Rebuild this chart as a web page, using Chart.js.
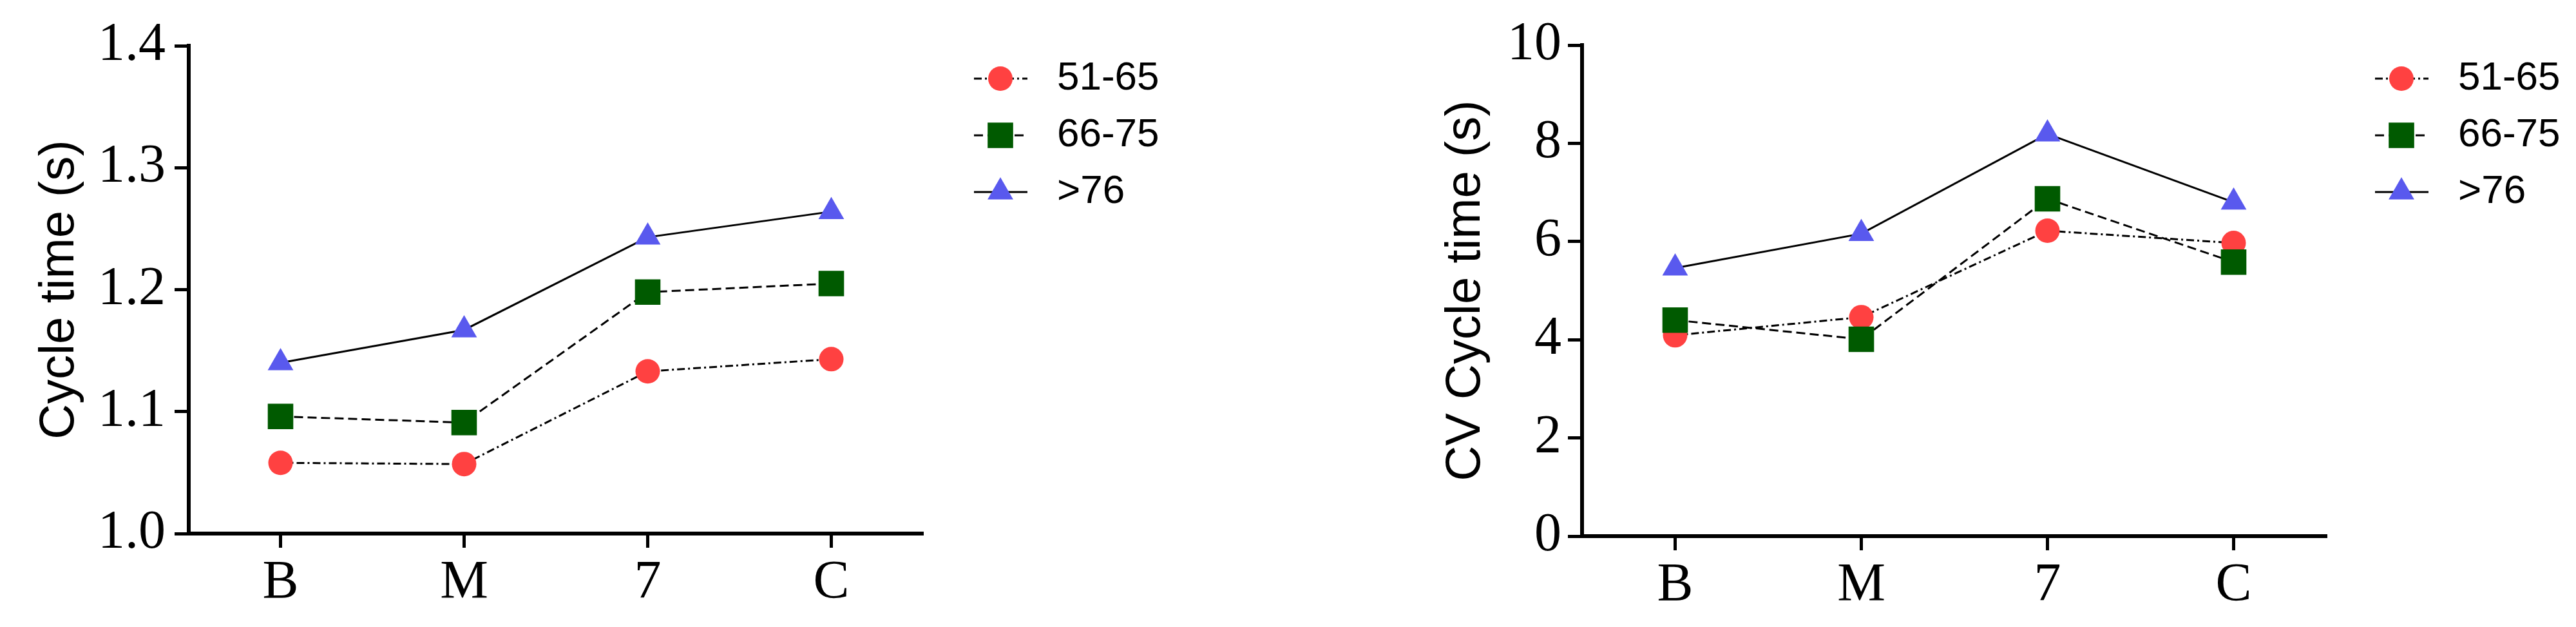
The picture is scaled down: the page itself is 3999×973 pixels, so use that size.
<!DOCTYPE html>
<html>
<head>
<meta charset="utf-8">
<script src="https://cdn.jsdelivr.net/npm/chart.js@4.4.1/dist/chart.umd.min.js"></script>
<style>
html, body { margin: 0; padding: 0; background: #fff; }
#wrap { position: relative; width: 3999px; height: 973px; }
.box { position: absolute; top: 0; height: 973px; }
</style>
</head>
<body>
<div id="wrap">
  <div class="box" style="left:0;width:2000px"><canvas id="cycle"></canvas></div>
  <div class="box" style="left:2000px;width:1999px"><canvas id="cv"></canvas></div>
</div>
<script>
// values
const categories = ['B', 'M', '7', 'C'];
const groupLabels = ['51-65', '66-75', '>76'];

const cycle51 = [1.058, 1.057, 1.133, 1.143];
const cycle66 = [1.096, 1.091, 1.198, 1.205];
const cycle76 = [1.140, 1.167, 1.243, 1.264];

const cv51 = [4.09, 4.46, 6.22, 5.97];
const cv66 = [4.40, 4.01, 6.87, 5.58];
const cv76 = [5.46, 6.16, 8.19, 6.80];

const cycleTicks = [1.0, 1.1, 1.2, 1.3, 1.4];
const cvTicks = [0, 2, 4, 6, 8, 10];

const markerColors = ['#FF4141', '#005A00', '#5959EE'];
const markerStyles = ['circle', 'rect', 'triangle'];
const markerRadius = [19, 28, 23];
const lineDashes = [[12, 5, 3, 5], [14, 7], []];

Chart.defaults.font.family = '"Liberation Serif", "Times New Roman", serif';
Chart.defaults.color = '#000';

// legend with a short line segment behind each marker
const lineLegend = {
    id: 'lineLegend',
    afterDraw(chart, args, opts) {
        const ctx = chart.ctx;
        chart.data.datasets.forEach((ds, i) => {
            const y = opts.top + i * opts.step;
            ctx.save();
            ctx.strokeStyle = '#000';
            ctx.lineWidth = 3;
            ctx.setLineDash(ds.borderDash);
            ctx.beginPath();
            ctx.moveTo(opts.x - 41, y);
            ctx.lineTo(opts.x + 42, y);
            ctx.stroke();
            ctx.setLineDash([]);
            ctx.fillStyle = ds.pointBackgroundColor;
            Chart.helpers.drawPoint(ctx, {
                pointStyle: ds.pointStyle, radius: ds.pointRadius, rotation: 0, borderWidth: 0
            }, opts.x, y);
            ctx.fillStyle = '#000';
            ctx.font = '62px "Liberation Sans", Arial, sans-serif';
            ctx.textBaseline = 'middle';
            ctx.textAlign = 'left';
            ctx.fillText(ds.label, opts.x + 88, y);
            ctx.restore();
        });
    }
};

function makeDatasets(series) {
    return series.map((values, i) => ({
        label: groupLabels[i],
        data: values,
        borderColor: '#000',
        borderWidth: 3,
        borderDash: lineDashes[i],
        pointStyle: markerStyles[i],
        pointRadius: markerRadius[i],
        pointHoverRadius: markerRadius[i],
        pointBackgroundColor: markerColors[i],
        pointBorderWidth: 0,
        order: 3 - i,
        tension: 0
    }));
}

function makeChart(id, series, yTicks, decimals, title, s) {
    return new Chart(document.getElementById(id), {
        type: 'line',
        data: { labels: categories, datasets: makeDatasets(series) },
        plugins: [lineLegend],
        options: {
            responsive: true,
            maintainAspectRatio: false,
            animation: false,
            layout: { padding: { left: 0, top: s.top, right: s.right, bottom: 0 } },
            plugins: {
                legend: { display: false },
                tooltip: { enabled: false },
                lineLegend: { x: s.legendX, top: 122, step: 88 }
            },
            scales: {
                x: {
                    offset: true,
                    border: { display: true, color: '#000', width: 6 },
                    grid: { drawOnChartArea: false, tickLength: 22, tickWidth: 5, tickColor: '#000' },
                    ticks: { font: { size: 84 }, padding: 6, maxRotation: 0 },
                    afterFit(scale) { scale.height = 973 - s.bottom; }
                },
                y: {
                    min: yTicks[0],
                    max: yTicks[yTicks.length - 1],
                    afterBuildTicks(scale) { scale.ticks = yTicks.map(v => ({ value: v })); },
                    border: { display: true, color: '#000', width: 6 },
                    grid: { drawOnChartArea: false, tickLength: 22, tickWidth: 5, tickColor: '#000' },
                    ticks: {
                        font: { size: 84 },
                        padding: s.tickPad,
                        callback: v => Number(v).toFixed(decimals)
                    },
                    title: {
                        display: true,
                        text: title,
                        font: { family: '"Liberation Sans", Arial, sans-serif', size: 76, lineHeight: 1 },
                        padding: { top: s.titlePad, bottom: 0 }
                    },
                    afterFit(scale) { scale.width = s.left; }
                }
            }
        }
    });
}

makeChart('cycle', [cycle51, cycle66, cycle76], cycleTicks, 1, 'Cycle time (s)',
    { left: 293, right: 2000 - 1433, top: 71, bottom: 828, tickPad: 14, titlePad: 55, legendX: 1553 });

makeChart('cv', [cv51, cv66, cv76], cvTicks, 0, 'CV Cycle time (s)',
    { left: 456, right: 1999 - 1612, top: 70, bottom: 832, tickPad: 10, titlePad: 238, legendX: 1728 });
</script>
</body>
</html>
